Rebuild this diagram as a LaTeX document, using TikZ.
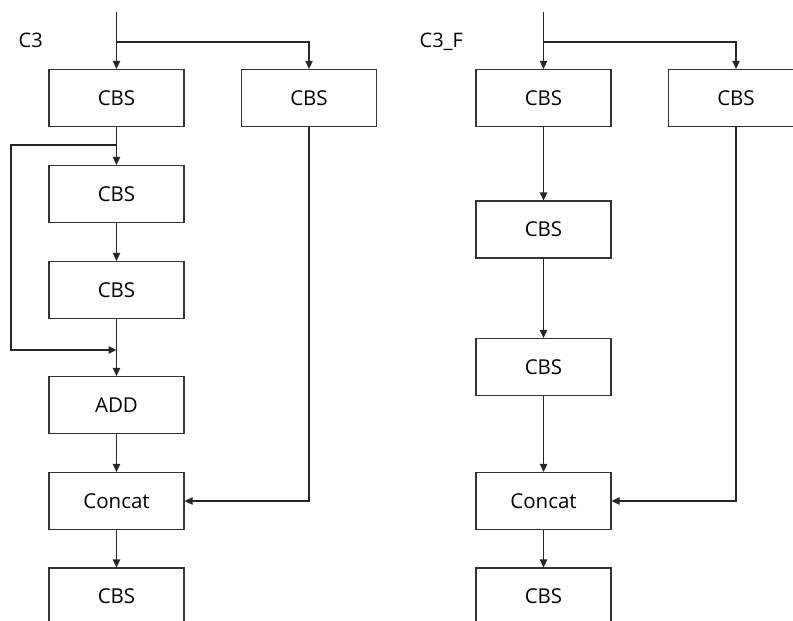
\documentclass[tikz,border=0pt]{standalone}
\usepackage{fontspec}
\setmainfont{Open Sans}
\usetikzlibrary{arrows.meta}
\begin{document}
\begin{tikzpicture}[x=1pt,y=-1pt,
  line width=1.3pt,
  box/.style={draw=black!80, line width=1.3pt, minimum width=135pt, minimum height=57pt, inner sep=0pt, font=\fontsize{20.5}{23}\selectfont},
  lbl/.style={anchor=base west, inner sep=0pt, font=\fontsize{20}{23}\selectfont},
  conn/.style={draw=black!85, line width=1.3pt, -{Triangle[length=8pt,width=7.5pt]}},
  wire/.style={draw=black!85, line width=1.3pt}]
\clip (0,0) rectangle (793,621);
\useasboundingbox (0,0) rectangle (793,621);
% ---------- left diagram C3 ----------
\node[lbl] (t1) at (18,47) {C3};
\coordinate (in1) at (116.5,12);
\node[box] (a1) at (116.5,98) {CBS};
\node[box] (b1) at (309,98) {CBS};
\node[box] (a2) at (116.5,194) {CBS};
\node[box] (a3) at (116.5,290) {CBS};
\node[box] (a4) at (116.5,405) {ADD};
\node[box] (a5) at (116.5,501) {Concat};
\node[box] (a6) at (116.5,596.5) {CBS};
\coordinate (s1) at (116.5,42);
\coordinate (r1) at (116.5,145);
\coordinate (r2) at (116.5,350);
\draw[conn] (in1) -- (a1);
\draw[conn] (s1) -| (b1);
\draw[conn] (a1) -- (a2);
\draw[conn] (a2) -- (a3);
\draw[conn] (a3) -- (a4);
\draw[conn] (a4) -- (a5);
\draw[conn] (a5) -- (a6);
\draw[conn] (r1) -- (11,145) -- (11,350) -- (r2);
\draw[conn] (b1) |- (a5);
% ---------- right diagram C3_F ----------
\node[lbl] (t2) at (419,47) {C3\_F};
\coordinate (in2) at (543.5,12);
\node[box] (c1) at (543.5,98) {CBS};
\node[box] (d1) at (736,98) {CBS};
\node[box] (c2) at (543.5,229.5) {CBS};
\node[box] (c3) at (543.5,367) {CBS};
\node[box] (c4) at (543.5,501) {Concat};
\node[box] (c5) at (543.5,596.5) {CBS};
\coordinate (s2) at (543.5,42);
\draw[conn] (in2) -- (c1);
\draw[conn] (s2) -| (d1);
\draw[conn] (c1) -- (c2);
\draw[conn] (c2) -- (c3);
\draw[conn] (c3) -- (c4);
\draw[conn] (c4) -- (c5);
\draw[conn] (d1) |- (c4);
\end{tikzpicture}
\end{document}
